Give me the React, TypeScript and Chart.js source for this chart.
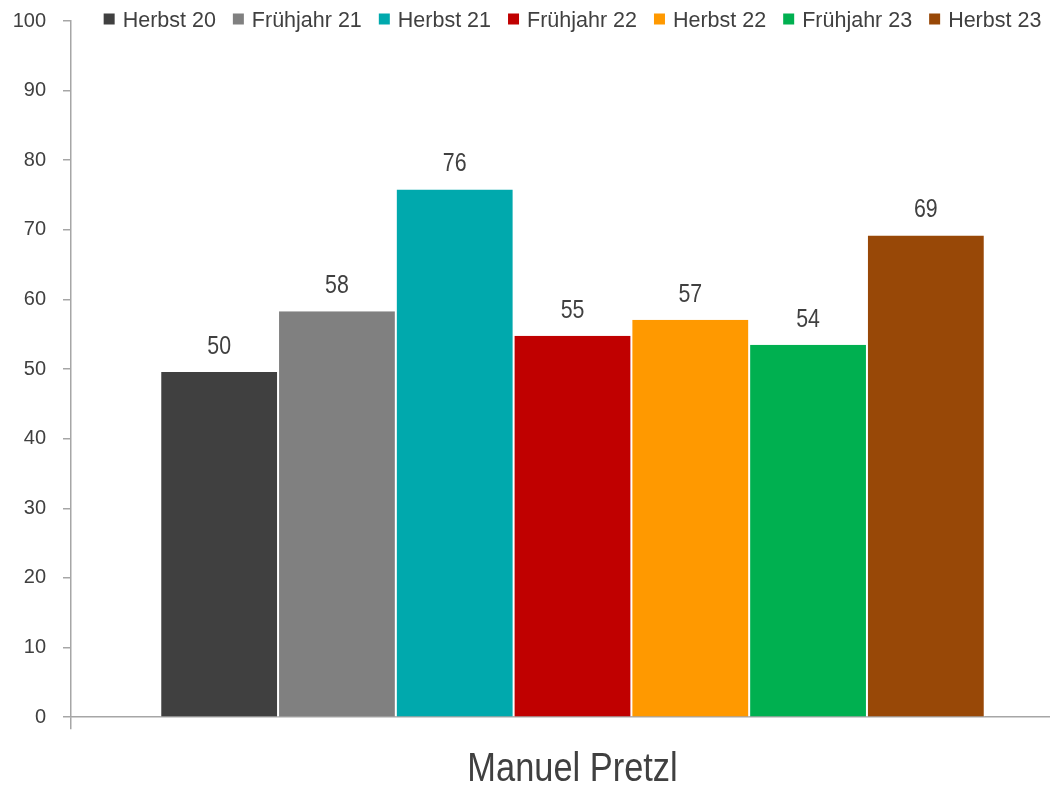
import React, { useEffect, useRef } from 'react';
import { Chart, registerables } from 'chart.js';

Chart.register(...registerables);

// ---- data ----
const categories: string[] = ['Manuel Pretzl'];
const seriesLabels: string[] = [
  'Herbst 20',
  'Frühjahr 21',
  'Herbst 21',
  'Frühjahr 22',
  'Herbst 22',
  'Frühjahr 23',
  'Herbst 23',
];
const seriesValues: number[] = [49.6, 58.3, 75.8, 54.8, 57.1, 53.5, 69.2];
const seriesColors: string[] = [
  '#404040',
  '#808080',
  '#00a9ad',
  '#c00000',
  '#ff9900',
  '#00b050',
  '#984807',
];
const yMin = 0;
const yMax = 100;
const yStep = 10;

const FONT = '"Liberation Sans", Arial, sans-serif';
const TEXT = '#404040';
const AXIS = '#a6a6a6';
const SHIFT = 8; // canvas is shifted up by this many px

// condensed text: regular face squeezed horizontally
function drawCondensed(ctx: any, text: string, x: number, y: number, size: number, squeeze: number) {
  ctx.save();
  ctx.font = `${size}px ${FONT}`;
  ctx.fillStyle = TEXT;
  ctx.textAlign = 'center';
  ctx.textBaseline = 'alphabetic';
  ctx.translate(x, y);
  ctx.scale(squeeze, 1);
  ctx.fillText(text, 0, 0);
  ctx.restore();
}

const valueLabelPlugin = {
  id: 'valueLabels',
  afterDatasetsDraw(chart: any) {
    const ctx = chart.ctx;
    chart.data.datasets.forEach((ds: any, i: number) => {
      const meta = chart.getDatasetMeta(i);
      meta.data.forEach((el: any, j: number) => {
        const v = ds.data[j];
        drawCondensed(ctx, String(Math.round(v)), el.x, el.y - 18, 26, 0.82);
      });
    });
  },
};

const categoryLabelPlugin = {
  id: 'categoryLabels',
  afterDraw(chart: any) {
    const ctx = chart.ctx;
    const xs = chart.scales.x;
    chart.data.labels.forEach((lab: string, i: number) => {
      drawCondensed(ctx, lab, xs.getPixelForTick(i), 781 + SHIFT, 40, 0.86);
    });
  },
};

const legendPlugin = {
  id: 'customLegend',
  afterDraw(chart: any) {
    const ctx = chart.ctx;
    const box = 11;
    const boxGap = 8;
    const itemGap = 17;
    ctx.save();
    ctx.font = `21.5px ${FONT}`;
    const items = chart.data.datasets.map((ds: any) => ({
      label: ds.label,
      color: ds.backgroundColor,
      w: ctx.measureText(ds.label).width,
    }));
    const total =
      items.reduce((s: number, it: any) => s + box + boxGap + it.w, 0) +
      itemGap * (items.length - 1);
    const ca = chart.chartArea;
    let x = (ca.left + ca.right) / 2 - total / 2;
    const baseline = 26.7 + SHIFT;
    items.forEach((it: any) => {
      ctx.fillStyle = it.color;
      ctx.fillRect(x, 13.5 + SHIFT, box, box);
      ctx.fillStyle = TEXT;
      ctx.textAlign = 'left';
      ctx.textBaseline = 'alphabetic';
      ctx.fillText(it.label, x + box + boxGap, baseline);
      x += box + boxGap + it.w + itemGap;
    });
    ctx.restore();
  },
};

export default function App() {
  const canvasRef = useRef<HTMLCanvasElement | null>(null);

  useEffect(() => {
    const canvas = canvasRef.current;
    if (!canvas) return;
    const chart = new Chart(canvas, {
      type: 'bar',
      data: {
        labels: categories,
        datasets: seriesLabels.map((label, i) => ({
          label,
          data: [seriesValues[i]],
          backgroundColor: seriesColors[i],
          borderColor: '#ffffff',
          borderWidth: { left: 1, right: 1, top: 0, bottom: 0 },
          borderSkipped: false,
          categoryPercentage: 0.822,
          barPercentage: 1,
        })),
      },
      options: {
        responsive: false,
        animation: false,
        layout: { padding: { left: 0, right: 0, top: 0, bottom: 0 } },
        plugins: {
          legend: { display: false },
          tooltip: { enabled: false },
          title: { display: false },
        },
        scales: {
          x: {
            offset: true,
            grid: {
              offset: true,
              drawOnChartArea: false,
              drawTicks: true,
              tickLength: 12,
              color: AXIS,
              lineWidth: 1.5,
            },
            border: { display: true, color: AXIS, width: 1.5 },
            ticks: {
              // space is reserved here; the label itself is drawn condensed by categoryLabelPlugin
              color: 'rgba(0,0,0,0)',
              font: { family: FONT, size: 40 },
              padding: 15.4,
            },
          },
          y: {
            min: yMin,
            max: yMax,
            afterFit(scale: any) {
              scale.width = 71;
            },
            ticks: {
              stepSize: yStep,
              color: TEXT,
              font: { family: FONT, size: 20 },
              padding: 17,
            },
            grid: {
              drawOnChartArea: false,
              drawTicks: true,
              tickLength: 8,
              color: AXIS,
              lineWidth: 1.5,
            },
            border: { display: true, color: AXIS, width: 1.5 },
          },
        },
      },
      plugins: [valueLabelPlugin, categoryLabelPlugin, legendPlugin],
    });
    return () => chart.destroy();
  }, []);

  return (
    <div
      style={{
        position: 'absolute',
        left: 0,
        top: 0,
        width: 1050,
        height: 785,
        overflow: 'hidden',
        background: '#ffffff',
      }}
    >
      <canvas
        ref={canvasRef}
        width={1074}
        height={816}
        style={{ display: 'block', position: 'absolute', left: 0, top: -SHIFT }}
      />
    </div>
  );
}
